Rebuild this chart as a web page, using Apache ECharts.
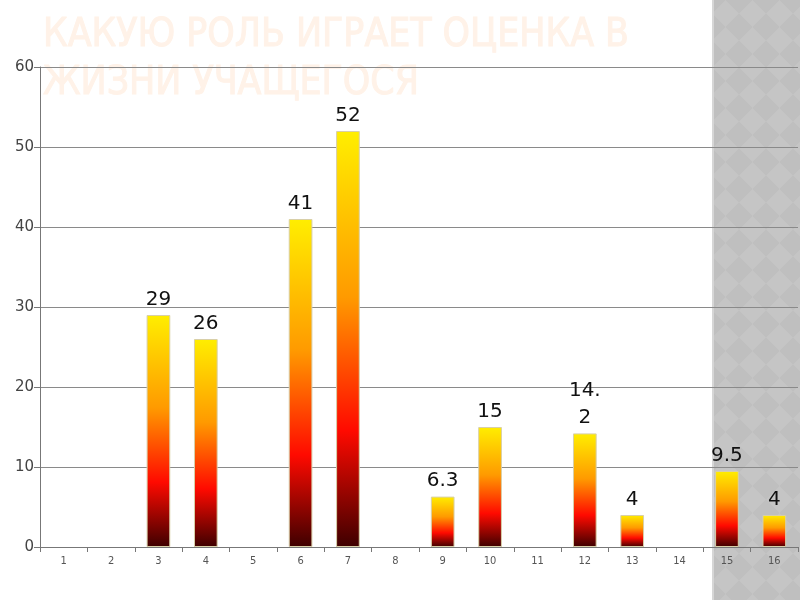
<!DOCTYPE html>
<html><head><meta charset="utf-8">
<script src="https://cdn.jsdelivr.net/npm/echarts@6/dist/echarts.min.js"></script>
<style>html,body{margin:0;padding:0;background:#fff}#c{width:800px;height:600px}</style>
</head><body><div id="c"></div>
<script>
const categories = ['1','2','3','4','5','6','7','8','9','10','11','12','13','14','15','16'];
const values = [null, null, 29, 26, null, 41, 52, null, 6.3, 15, null, 14.2, 4, null, 9.5, 4];
const yTicks = [0, 10, 20, 30, 40, 50, 60];
const titleLines = ['КАКУЮ РОЛЬ ИГРАЕТ ОЦЕНКА В', 'ЖИЗНИ УЧАЩЕГОСЯ'];

// checkered pattern for right panel
const P = 27;
const pc = document.createElement('canvas');
pc.width = P; pc.height = P;
const g = pc.getContext('2d');
g.fillStyle = '#bfbfbf'; g.fillRect(0,0,P,P);
g.fillStyle = '#c5c5c5';
g.beginPath(); g.moveTo(P/2,0); g.lineTo(P,P/2); g.lineTo(P/2,P); g.lineTo(0,P/2); g.closePath(); g.fill();

const titleFont = '39px "Liberation Sans Narrow", "DejaVu Sans Condensed", sans-serif';
const mc = document.createElement('canvas').getContext('2d');
mc.font = titleFont;
const tw = mc.measureText(titleLines[0]).width;
const sx = 586 / tw;

const chart = echarts.init(document.getElementById('c'), null, {renderer:'canvas'});
const grad = new echarts.graphic.LinearGradient(0,0,0,1,[
  {offset:0, color:'#ffee00'},
  {offset:0.4, color:'#ff9a00'},
  {offset:0.72, color:'#ff0a00'},
  {offset:1, color:'#3e0000'}
]);
chart.setOption({
  animation:false,
  backgroundColor:'#ffffff',
  graphic:[
    {type:'rect', left:712, top:0, z:-10, shape:{width:88, height:600}, style:{fill:{image:pc, repeat:'repeat'}}},
    {type:'rect', left:712, top:0, z:-9, shape:{width:2, height:600}, style:{fill:'#d6d6d6'}},
    {type:'text', x:43, y:12, scaleX:sx, z:-5, style:{text:titleLines.join('\n'), fill:'#fff2e8', font:titleFont, lineHeight:48, stroke:'#fff2e8', lineWidth:1}}
  ],
  grid:{left:40, right:2, top:67, bottom:53},
  xAxis:{
    type:'category', data:categories,
    axisLine:{lineStyle:{color:'#777', width:1}},
    axisTick:{show:true, length:5, lineStyle:{color:'#777'}},
    axisLabel:{color:'#555', fontSize:11, margin:9, fontFamily:'DejaVu Sans Condensed, sans-serif'}
  },
  yAxis:{
    type:'value', min:yTicks[0], max:yTicks[yTicks.length-1], interval:10,
    axisLine:{show:true, lineStyle:{color:'#777'}},
    axisTick:{show:true, inside:false, length:6, lineStyle:{color:'#777'}},
    axisLabel:{color:'#444', fontSize:15, margin:6, fontFamily:'DejaVu Sans, sans-serif'},
    splitLine:{lineStyle:{color:'#8a8a8a', width:1}}
  },
  series:[{
    type:'bar', data:values, barWidth:'50%',
    itemStyle:{color:grad, borderColor:'#d8cfa8', borderWidth:1},
    label:{show:true, position:'top', distance:2, color:'#111', fontSize:20, fontFamily:'DejaVu Sans, sans-serif', lineHeight:27,
      formatter:function(p){ const s=String(p.value); return s.length>3 ? s.slice(0,3)+'\n'+s.slice(3) : s; }}
  }]
});
</script></body></html>
